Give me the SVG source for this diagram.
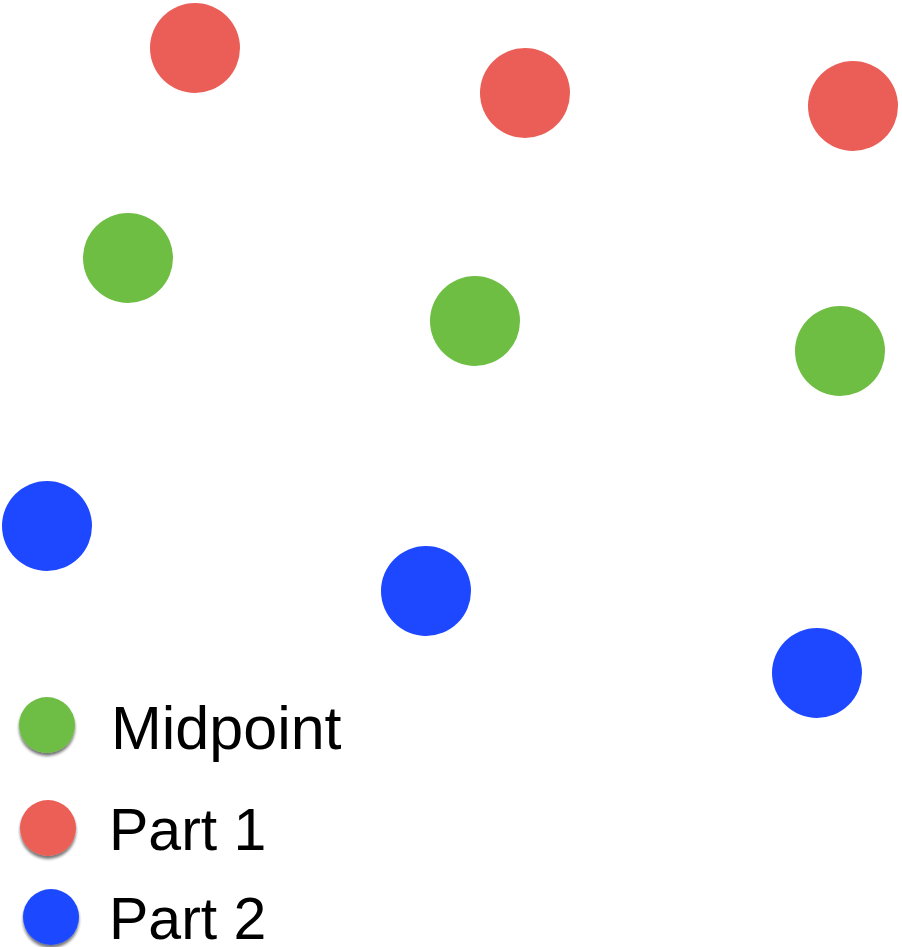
<svg xmlns="http://www.w3.org/2000/svg" width="902" height="947" viewBox="0 0 902 947">
<defs>
<filter id="sh" x="-30%" y="-30%" width="160%" height="170%">
<feGaussianBlur in="SourceAlpha" stdDeviation="1.5"/>
<feOffset dy="3" result="b"/>
<feComponentTransfer><feFuncA type="linear" slope="0.55"/></feComponentTransfer>
<feMerge><feMergeNode/><feMergeNode in="SourceGraphic"/></feMerge>
</filter>
<style>
.r{fill:#EB5E57}.g{fill:#6EBE44}.b{fill:#1E48FF}
.t{font-family:"Liberation Sans",Arial,sans-serif;font-size:61px;fill:#000}
.p{font-size:59px}
</style>
</defs>
<rect width="902" height="947" fill="#fff"/>
<g id="part1">
<circle id="p1a" class="r" cx="195" cy="48" r="45"/>
<circle id="p1b" class="r" cx="525" cy="93" r="45"/>
<circle id="p1c" class="r" cx="853" cy="106" r="45"/>
</g>
<g id="midpoints">
<circle id="ma" class="g" cx="128" cy="258" r="45"/>
<circle id="mb" class="g" cx="475" cy="321" r="45"/>
<circle id="mc" class="g" cx="840" cy="351" r="45"/>
</g>
<g id="part2">
<circle id="p2a" class="b" cx="47" cy="526" r="45"/>
<circle id="p2b" class="b" cx="426" cy="591" r="45"/>
<circle id="p2c" class="b" cx="817" cy="673" r="45"/>
</g>
<g id="connectors"/>
<g id="legend">
<g id="leg-mid"><circle class="g" cx="47" cy="725" r="28" filter="url(#sh)"/><text class="t" x="111" y="749">Midpoint</text></g>
<g id="leg-p1"><circle class="r" cx="48" cy="828" r="28" filter="url(#sh)"/><text class="t p" x="109" y="850">Part 1</text></g>
<g id="leg-p2"><circle class="b" cx="51" cy="917" r="28" filter="url(#sh)"/><text class="t p" x="109" y="939">Part 2</text></g>
</g>
</svg>
